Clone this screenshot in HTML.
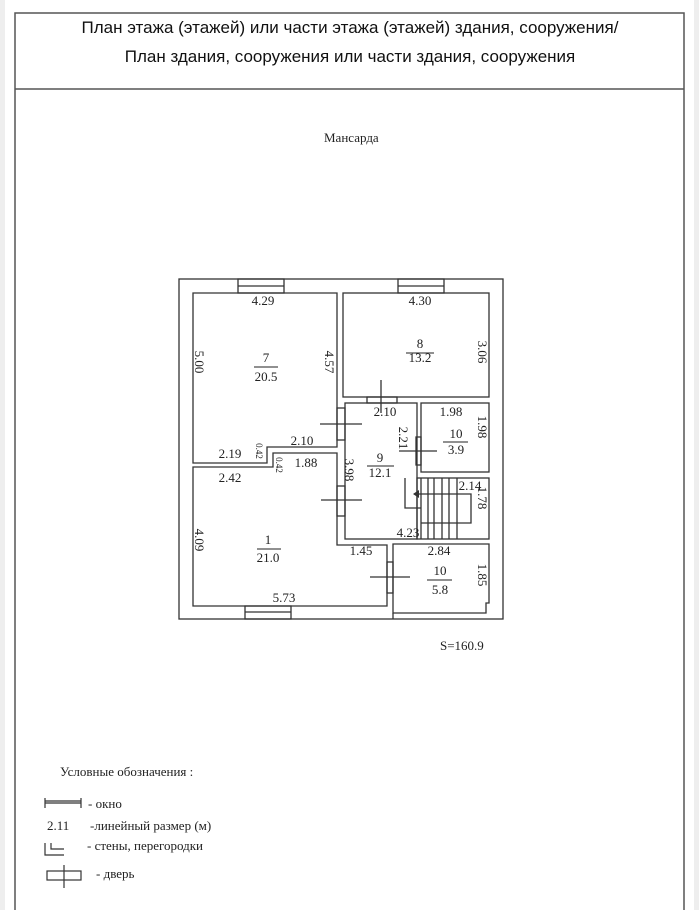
<!DOCTYPE html>
<html><head><meta charset="utf-8"><style>
html,body{margin:0;padding:0;background:#fff;}
body{width:699px;height:910px;position:relative;overflow:hidden;}
svg{position:absolute;left:0;top:0;}
</style></head><body>
<svg width="699" height="910" viewBox="0 0 699 910" xmlns="http://www.w3.org/2000/svg">
<rect x="0" y="0" width="699" height="910" fill="#fff"/>
<rect x="0" y="0" width="5" height="910" fill="#eee"/>
<rect x="694" y="0" width="5" height="910" fill="#eee"/>
<g fill="none" stroke="#555" stroke-width="1.5">
<path d="M15 912 V13 H684 V912"/>
<line x1="15" y1="89" x2="684" y2="89"/>
</g>
<g font-family="Liberation Sans, sans-serif" font-size="17" fill="#111" text-anchor="middle">
<text x="350" y="33">План этажа (этажей) или части этажа (этажей) здания, сооружения/</text>
<text x="350" y="62">План здания, сооружения или части здания, сооружения</text>
</g>
<g font-family="Liberation Serif, serif" font-size="13" fill="#222">
<text x="324" y="142">Мансарда</text>
<text x="440" y="650">S=160.9</text>
<text x="60" y="776">Условные обозначения :</text>
<text x="88" y="808">- окно</text>
<text x="47" y="830">2.11</text>
<text x="90" y="830">-линейный размер (м)</text>
<text x="87" y="850">- стены, перегородки</text>
<text x="96" y="878">- дверь</text>
</g>
<g fill="none" stroke="#333" stroke-width="1.2">
<path d="M45 798 V808 M45 803 H81 M45 801 H81 M81 798 V808"/>
<path d="M45 843 V855 H64 M51 843 V849 H64"/>
<rect x="47" y="871" width="34" height="9"/>
<line x1="64" y1="865" x2="64" y2="888"/>
</g>
<g fill="none" stroke="#333" stroke-width="1.3">
<rect x="179" y="279" width="324" height="340"/>
<path d="M193 293 H337 V447 H267 V463 H193 Z"/>
<rect x="343" y="293" width="146" height="104"/>
<rect x="345" y="403" width="72" height="136"/>
<rect x="421" y="403" width="68" height="69"/>
<rect x="417" y="478" width="72" height="61"/>
<path d="M193 467 H273 V453 H337 V545 H387 V606 H193 Z"/>
<path d="M393 544 H489 V603 H486 V613 H393 Z"/>
<line x1="393" y1="613" x2="393" y2="619"/>
<rect x="238" y="279" width="46" height="14"/>
<line x1="238" y1="286" x2="284" y2="286"/>
<rect x="398" y="279" width="46" height="14"/>
<line x1="398" y1="286" x2="444" y2="286"/>
<rect x="245" y="606" width="46" height="13"/>
<line x1="245" y1="612" x2="291" y2="612"/>
<rect x="367" y="397" width="30" height="6"/>
<rect x="337" y="408" width="8" height="32"/>
<line x1="320" y1="424" x2="362" y2="424"/>
<rect x="337" y="486" width="8" height="30"/>
<line x1="321" y1="500" x2="362" y2="500"/>
<rect x="387" y="562" width="6" height="31"/>
<line x1="370" y1="577" x2="410" y2="577"/>
<rect x="416" y="437" width="5" height="28"/>
<line x1="399" y1="451" x2="437" y2="451"/>
<line x1="381" y1="380" x2="381" y2="413"/>
<!-- stairs -->
<path d="M405 478 V508 H421"/>
<path d="M414 494 H471 V523 H421"/>
<path d="M421 478 V539 M428 478 V539 M434 478 V539 M442 478 V539 M449 478 V539 M457 478 V539"/>
</g>
<path d="M413 494 L419 490 L419 498 Z" fill="#333"/>
<g font-family="Liberation Serif, serif" font-size="13" fill="#222" text-anchor="middle">
<text x="263" y="305">4.29</text>
<text x="420" y="305">4.30</text>
<text x="266" y="362">7</text><line x1="254" y1="367" x2="278" y2="367" stroke="#222"/><text x="266" y="381">20.5</text>
<text x="420" y="348">8</text><line x1="406" y1="353" x2="434" y2="353" stroke="#222"/><text x="420" y="362">13.2</text>
<text x="385" y="416">2.10</text>
<text x="451" y="416">1.98</text>
<text x="456" y="438">10</text><line x1="443" y1="442" x2="468" y2="442" stroke="#222"/><text x="456" y="454">3.9</text>
<text x="380" y="462">9</text><line x1="367" y1="466" x2="394" y2="466" stroke="#222"/><text x="380" y="477">12.1</text>
<text x="302" y="445">2.10</text>
<text x="230" y="458">2.19</text>
<text x="306" y="467">1.88</text>
<text x="230" y="482">2.42</text>
<text x="268" y="544">1</text><line x1="257" y1="549" x2="281" y2="549" stroke="#222"/><text x="268" y="562">21.0</text>
<text x="361" y="555">1.45</text>
<text x="439" y="555">2.84</text>
<text x="408" y="537">4.23</text>
<text x="470" y="490">2.14</text>
<text x="440" y="575">10</text><line x1="427" y1="580" x2="452" y2="580" stroke="#222"/><text x="440" y="594">5.8</text>
<text x="284" y="602">5.73</text>
</g>
<g font-family="Liberation Serif, serif" font-size="13" fill="#222" text-anchor="middle">
<text transform="translate(195,362) rotate(90)">5.00</text>
<text transform="translate(325,362) rotate(90)">4.57</text>
<text transform="translate(478,352) rotate(90)">3.06</text>
<text transform="translate(478,427) rotate(90)">1.98</text>
<text transform="translate(399,438) rotate(90)">2.21</text>
<text transform="translate(345,470) rotate(90)">3.98</text>
<text transform="translate(478,498) rotate(90)">1.78</text>
<text transform="translate(478,575) rotate(90)">1.85</text>
<text transform="translate(195,540) rotate(90)">4.09</text>
<text transform="translate(256,451) rotate(90)" font-size="9">0.42</text>
<text transform="translate(276,465) rotate(90)" font-size="9">0.42</text>
</g>
</svg>
</body></html>
